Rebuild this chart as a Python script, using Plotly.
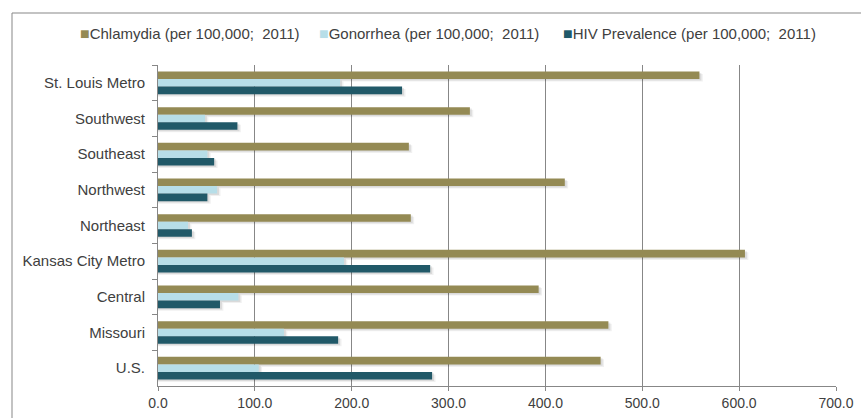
import plotly.graph_objects as go

# Regional rates per 100,000 population, 2011
regions = ["St. Louis Metro", "Southwest", "Southeast", "Northwest", "Northeast",
           "Kansas City Metro", "Central", "Missouri", "U.S."]
chlamydia = [559, 322, 259, 420, 261, 606, 393, 465, 457]
gonorrhea = [188, 48.5, 51, 61, 31, 192, 83, 130, 104]
hiv_prevalence = [252, 82, 58, 51, 35, 281, 64, 186, 283]

series_names = ["Chlamydia (per 100,000;\u00a0 2011)",
                "Gonorrhea (per 100,000;\u00a0 2011)",
                "HIV Prevalence (per 100,000;\u00a0 2011)"]
series_values = [chlamydia, gonorrhea, hiv_prevalence]
series_colors = ["#948A54", "#B7DEE8", "#215968"]

x_ticks = [0, 100, 200, 300, 400, 500, 600, 700]

FONT = "Liberation Sans, Arial, sans-serif"
TEXT = "#404040"
GRID = "#878787"

# Plot-area geometry in pixels (page is 861 x 418)
L, R, T, B = 158, 25, 65, 32
W, H = 861 - L - R, 418 - T - B

bar_w = 0.212
offsets = [-0.318, -0.106, 0.106]

fig = go.Figure()

# soft drop shadow under each bar (two faint layers)
for shift, extra, alpha in [(0.07, 3.5, 0.06), (0.04, 2.0, 0.09)]:
    for vals, off in zip(series_values, offsets):
        fig.add_trace(go.Bar(
            y=regions, x=[v + extra for v in vals], orientation="h",
            width=bar_w, offset=off + shift,
            marker=dict(color=f"rgba(0,0,0,{alpha})", line=dict(width=0)),
            showlegend=False, hoverinfo="skip"))

for name, vals, color, off in zip(series_names, series_values, series_colors, offsets):
    fig.add_trace(go.Bar(
        y=regions, x=vals, orientation="h", name=name,
        width=bar_w, offset=off,
        marker=dict(color=color, line=dict(width=0)),
        showlegend=False))

# legend row: coloured square followed by the series label
legend_px = [78, 317, 561]
for name, color, px in zip(series_names, series_colors, legend_px):
    fig.add_annotation(
        xref="paper", yref="paper",
        x=(px - L) / W, y=(418 - B - 33) / H,
        xanchor="left", yanchor="middle", showarrow=False,
        text=f"<span style='color:{color};font-size:16px'>\u25A0</span>{name}",
        font=dict(family=FONT, size=15, color=TEXT))

# chart frame (left and top edges visible on the page)
fig.add_shape(type="rect", xref="paper", yref="paper",
              x0=(12 - L) / W, x1=1.2,
              y0=-0.3, y1=(418 - B - 13) / H,
              line=dict(color=GRID, width=1), layer="below")

fig.update_layout(
    width=861, height=418,
    margin=dict(l=L, r=R, t=T, b=B, pad=0, autoexpand=False),
    paper_bgcolor="white", plot_bgcolor="white",
    barmode="overlay",
    font=dict(family=FONT, size=14, color=TEXT),
    xaxis=dict(
        range=[0, 700], tickvals=x_ticks, tickformat=".1f",
        automargin=False,
        showgrid=True, gridcolor=GRID, gridwidth=1,
        zeroline=False, showline=True, linecolor=GRID, linewidth=1,
        ticks="outside", ticklen=4, tickcolor=GRID,
        tickfont=dict(family=FONT, size=14, color=TEXT)),
    yaxis=dict(
        categoryorder="array", categoryarray=regions, autorange="reversed",
        automargin=False,
        showgrid=False, zeroline=False,
        showline=True, linecolor=GRID, linewidth=1,
        ticks="outside", ticklen=5, tickcolor=GRID, tickson="boundaries",
        ticklabelstandoff=9,
        tickfont=dict(family=FONT, size=15, color=TEXT)),
)

fig.write_html("out.html")
